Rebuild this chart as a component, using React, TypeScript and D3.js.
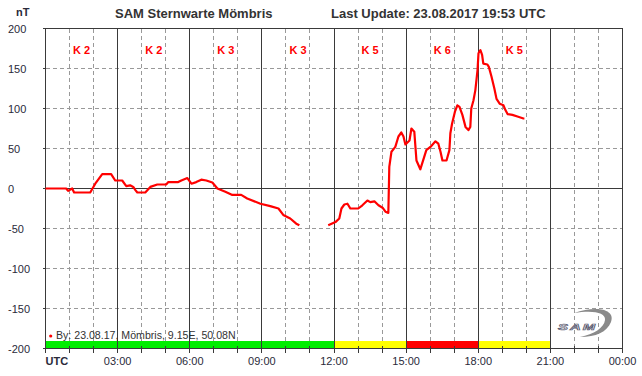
import React from "react";
import * as d3 from "d3";

const W = 642;
const H = 376;

// hourly magnetometer data (hour of day UTC, nT)
const seg1Hours = [0, 0.86, 0.94, 1.11, 1.19, 1.86, 2.07, 2.36, 2.73, 2.9, 3.19, 3.36, 3.52, 3.65, 3.74, 3.82, 4.15, 4.36, 4.65, 5.02, 5.11, 5.52, 5.65, 5.9, 6.07, 6.27, 6.48, 6.69, 6.94, 7.15, 7.48, 7.77, 8.14, 8.39, 8.94, 9.35, 9.69, 9.89, 10.18, 10.43, 10.56];
const seg1Values = [0, 0, -3, 0, -5, -5, 6, 18, 18, 10, 10, 3, 4, 2, -2, -5, -5, 2, 5, 5, 8, 8, 10, 13, 6, 8, 11, 10, 7.5, 0, -4, -8, -8, -12.5, -19, -22, -25, -33, -37.5, -44, -46];
const seg2Hours = [11.76, 12.06, 12.22, 12.31, 12.43, 12.56, 12.68, 13.01, 13.18, 13.39, 13.51, 13.68, 13.85, 14.02, 14.14, 14.26, 14.3, 14.39, 14.55, 14.68, 14.8, 14.89, 14.97, 15.14, 15.22, 15.34, 15.43, 15.59, 15.84, 16.01, 16.22, 16.34, 16.43, 16.51, 16.68, 16.8, 16.84, 16.91, 17.03, 17.13, 17.22, 17.34, 17.47, 17.59, 17.67, 17.71, 17.8, 17.88, 17.97, 18.01, 18.09, 18.16, 18.21, 18.38, 18.44, 18.55, 18.67, 18.76, 18.89, 19.05, 19.13, 19.22, 19.42, 19.63, 19.88, 19.92];
const seg2Values = [-46, -42, -37.5, -25, -20, -19, -25, -25, -21, -15, -17, -16, -21, -24, -29, -30.5, 27, 46, 52, 65, 70, 65, 55, 60, 75, 71, 35, 24, 48, 52, 59, 56, 46, 35, 35, 48, 69, 81, 96, 104, 102, 92, 77, 73, 77, 100, 110, 123, 148, 169, 173, 167, 156, 155, 152, 140, 125, 112, 106, 104, 98, 93, 92, 90, 87.5, 87.5];

const kBlocks = [0, 3, 6, 9, 12, 15, 18];
const kValues = ["K 2", "K 2", "K 3", "K 3", "K 5", "K 6", "K 5"];
const barStarts = [0, 12, 15, 18];
const barEnds = [12, 15, 18, 21];
const barColors = ["#00ee00", "#ffff00", "#ff0000", "#ffff00"];
const yTicks = [200, 150, 100, 50, 0, -50, -100, -150, -200];
const xTickLabels = ["UTC", "03:00", "06:00", "09:00", "12:00", "15:00", "18:00", "21:00", "00:00"];

const title = "SAM Sternwarte Mömbris";
const updateText = "Last Update: 23.08.2017 19:53 UTC";
const legendText = "By: 23.08.17, Mömbris, 9.15E, 50.08N";

export default function App() {
  const x = d3.scaleLinear().domain([0, 24]).range([45.5, 622.5]);
  const y = d3.scaleLinear().domain([-200, 200]).range([348.5, 28.5]);
  const line = d3
    .line<[number, number]>()
    .x((d) => x(d[0]))
    .y((d) => y(d[1]));
  const seg1 = seg1Hours.map((h, i) => [h, seg1Values[i]] as [number, number]);
  const seg2 = seg2Hours.map((h, i) => [h, seg2Values[i]] as [number, number]);
  const hours = d3.range(0, 25);
  const font = "'Liberation Sans', Arial, sans-serif";
  const textColor = "#2a2a3a";

  return (
    <svg
      width={W}
      height={H}
      style={{ position: "absolute", left: 0, top: 0, background: "#fff" }}
      fontFamily={font}
    >
      <rect x={0} y={0} width={W} height={H} fill="#fff" />
      {/* dashed grid */}
      <g stroke="#999" strokeDasharray="4,3" strokeWidth={1} shapeRendering="crispEdges">
        {hours
          .filter((h) => h % 3 !== 0)
          .map((h) => (
            <line key={"v" + h} x1={x(h)} x2={x(h)} y1={y(200)} y2={y(-200)} />
          ))}
        {yTicks
          .filter((v) => v !== 0 && Math.abs(v) !== 200)
          .map((v) => (
            <line key={"h" + v} x1={x(0)} x2={x(24)} y1={y(v)} y2={y(v)} />
          ))}
      </g>
      {/* K-index colour bar */}
      {barStarts.map((s, i) => (
        <rect
          key={"b" + i}
          x={x(s)}
          y={y(-200) - 7.5}
          width={x(barEnds[i]) - x(s)}
          height={7.5}
          fill={barColors[i]}
        />
      ))}
      {/* solid grid */}
      <g stroke="#3a3a3a" strokeWidth={1} shapeRendering="crispEdges">
        {hours
          .filter((h) => h % 3 === 0)
          .map((h) => (
            <line key={"s" + h} x1={x(h)} x2={x(h)} y1={y(200)} y2={y(-200) + 4} />
          ))}
        {hours
          .filter((h) => h % 3 !== 0)
          .map((h) => (
            <line key={"t" + h} x1={x(h)} x2={x(h)} y1={y(-200) - 3} y2={y(-200) + 4} />
          ))}
        <line x1={x(0)} x2={x(24)} y1={y(0)} y2={y(0)} />
        <line x1={x(0)} x2={x(24)} y1={y(200)} y2={y(200)} />
        <line x1={x(0)} x2={x(24)} y1={y(-200)} y2={y(-200)} />
        {yTicks.map((v) => (
          <line key={"yt" + v} x1={x(0) - 3} x2={x(0)} y1={y(v)} y2={y(v)} />
        ))}
      </g>
      {/* y labels */}
      {yTicks.map((v) => (
        <text key={"yl" + v} x={8} y={y(v) + 4} fontSize={11} fill={textColor}>
          {v}
        </text>
      ))}
      <text x={16} y={16} fontSize={11} fontWeight="bold" fill={textColor}>
        nT
      </text>
      {/* x labels */}
      {xTickLabels.map((t, i) =>
        i === 0 ? (
          <text key={t} x={x(0)} y={365} fontSize={11} fontWeight="bold" fill={textColor}>
            {t}
          </text>
        ) : (
          <text key={t} x={x(i * 3)} y={365} fontSize={11} textAnchor="middle" fill={textColor}>
            {t}
          </text>
        )
      )}
      {/* title */}
      <text x={115} y={18} fontSize={13} fontWeight="bold" fill="#333">
        {title}
      </text>
      <text x={331} y={18} fontSize={13} fontWeight="bold" fill="#333">
        {updateText}
      </text>
      {/* K labels */}
      {kBlocks.map((b, i) => (
        <text
          key={"k" + i}
          x={x(b + 1.5)}
          y={54}
          fontSize={11}
          fontWeight="bold"
          fill="#ff0000"
          textAnchor="middle"
        >
          {kValues[i]}
        </text>
      ))}
      {/* data */}
      <g fill="none" stroke="#ff0000" strokeWidth={2.2} strokeLinejoin="round">
        <path d={line(seg1) || ""} />
        <path d={line(seg2) || ""} />
      </g>
      {/* legend */}
      <circle cx={50.7} cy={336} r={1.6} fill="#ff0000" />
      <text x={56} y={338.5} fontSize={10.6} fill="#333">
        {legendText}
      </text>
      {/* logo */}
      <g>
        <path
          d="M574,313 C596,305 616,309 611,322 C607,332 596,337 580,337 C594,334 604,328 605,320 C606,312 592,310 574,313 Z"
          fill="#8a8a8a"
        />
        <text
          x={558}
          y={330}
          fontSize={11}
          fontStyle="italic"
          fontWeight="bold"
          fill="#fff"
          stroke="#5a5a70"
          strokeWidth={0.8}
          letterSpacing={1.5}
          transform="translate(558,330) scale(1.35,0.75) translate(-558,-330)"
        >
          SAM
        </text>
      </g>
    </svg>
  );
}
